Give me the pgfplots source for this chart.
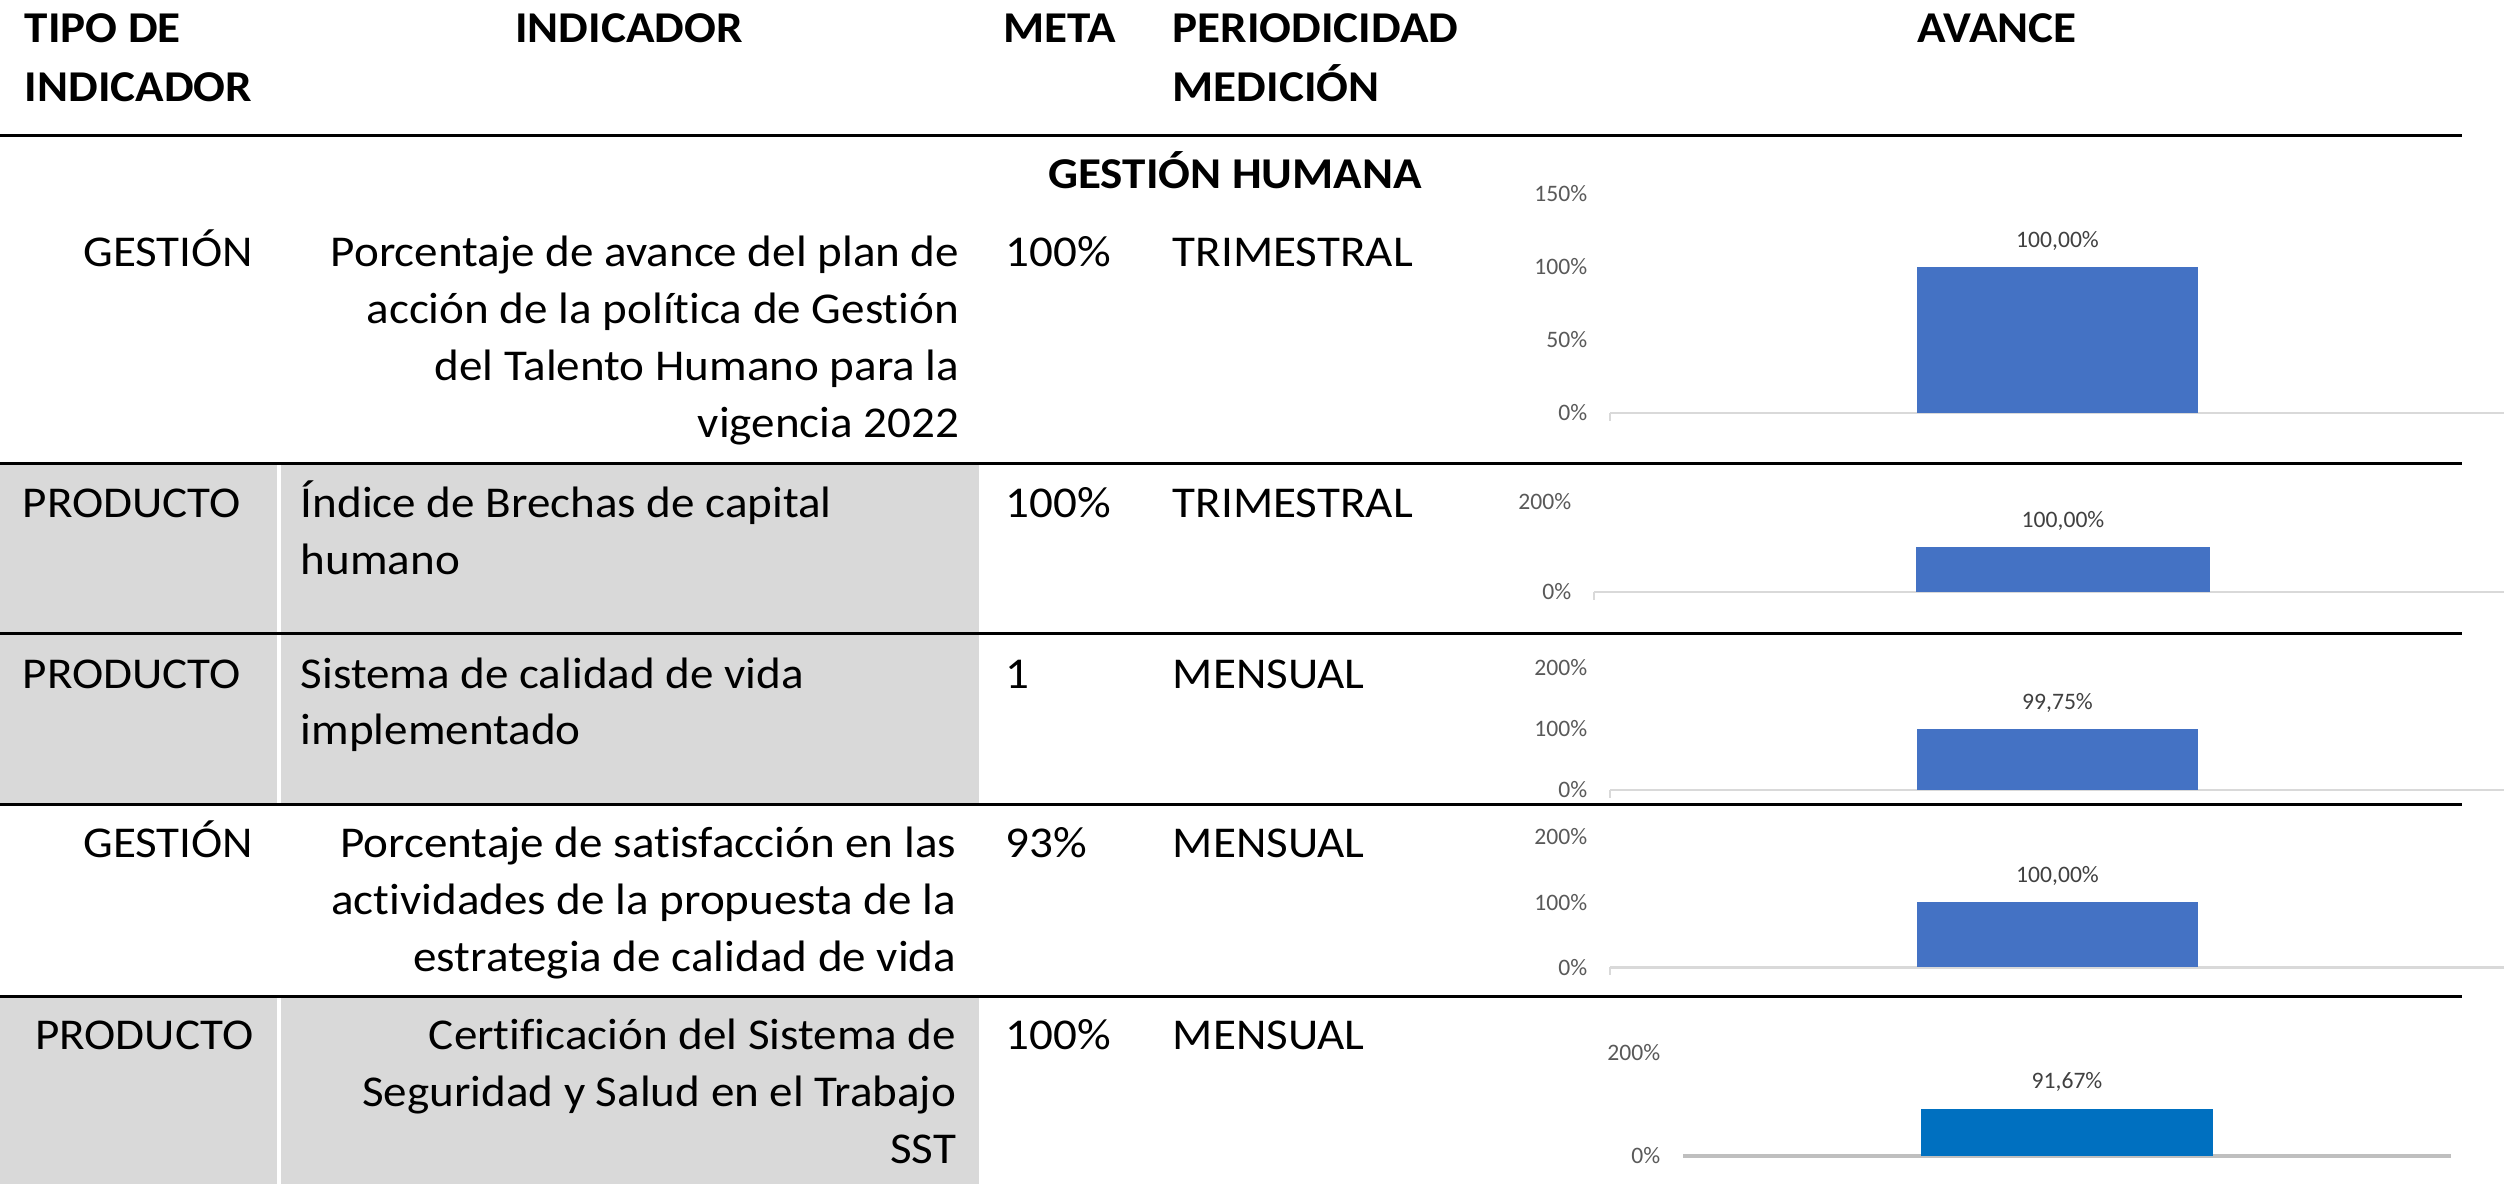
\documentclass[border=0pt]{standalone}
\usepackage{fontspec}
\setmainfont{Carlito}[FakeStretch=1.07, Ligatures=CommonOff]
\newfontfamily\chartfont{Carlito}
\usepackage{pgfplots}
\pgfplotsset{compat=1.18}
\definecolor{barblue}{HTML}{4472C4}
\definecolor{barblueB}{HTML}{0070C0}
\definecolor{tickgray}{HTML}{595959}
\definecolor{labgray}{HTML}{404040}
\definecolor{basegray}{HTML}{D9D9D9}
\definecolor{basegrayB}{HTML}{BFBFBF}
\definecolor{cellgray}{HTML}{D9D9D9}
\newcommand\tf{\fontsize{11pt}{14pt}\selectfont}
\newcommand\cf{\chartfont\fontsize{5.9pt}{7pt}\selectfont}
\pgfplotsset{minibar/.style={
  scale only axis, anchor=south west,
  axis line style={draw=none}, xtick=\empty, ymin=0,
  enlargelimits=false, clip=false,
  ytick style={draw=none}, major tick length=0pt,
  yticklabel style={font=\cf, text=tickgray, inner sep=0pt, anchor=east, xshift=-5.5pt},
  ybar,
  nodes near coords, point meta=explicit symbolic,
  every node near coord/.append style={font=\cf, text=labgray, anchor=south, inner sep=0pt, yshift=4pt},
}}
\begin{document}
\begin{tikzpicture}[x=0.25pt, y=0.25pt,
  t/.style={inner sep=0pt, font=\tf},
  h/.style={inner sep=0pt, font=\tf\bfseries}]
\path[use as bounding box] (0,0) rectangle (2504,1184);
% gray cells
\fill[cellgray] (0,551) rectangle (277,719);
\fill[cellgray] (281,551) rectangle (979,719);
\fill[cellgray] (0,380) rectangle (277,549);
\fill[cellgray] (281,380) rectangle (979,549);
\fill[cellgray] (0,0) rectangle (277,186);
\fill[cellgray] (281,0) rectangle (979,186);
% rules
\foreach \yy in {1048,720,550,379,187} {\draw[black, line width=0.75pt] (0,\yy) -- (2462,\yy);}
% header
\node[h, anchor=base west] at (24,1141) {TIPO DE};
\node[h, anchor=base west] at (24,1082) {INDICADOR};
\node[h, anchor=base] at (629,1141) {INDICADOR};
\node[h, anchor=base west] at (1003,1141) {META};
\node[h, anchor=base west] at (1172,1141) {PERIODICIDAD};
\node[h, anchor=base west] at (1172,1082) {MEDICIÓN};
\node[h, anchor=base] at (1997,1141) {AVANCE};
\node[h, anchor=base] at (1235,995) {GESTIÓN HUMANA};
% row 1
\node[t, anchor=base east] at (254,917) {GESTIÓN};
\node[t, anchor=base east] at (960,917) {Porcentaje de avance del plan de};
\node[t, anchor=base east] at (960,860) {acción de la política de Gestión};
\node[t, anchor=base east] at (960,803) {del Talento Humano para la};
\node[t, anchor=base east] at (960,746) {vigencia 2022};
\node[t, anchor=base west] at (1005,917) {100\%};
\node[t, anchor=base west] at (1172,917) {TRIMESTRAL};
% row 2
\node[t, anchor=base west] at (22,666) {PRODUCTO};
\node[t, anchor=base west] at (300,666) {Índice de Brechas de capital};
\node[t, anchor=base west] at (300,609) {humano};
\node[t, anchor=base west] at (1005,666) {100\%};
\node[t, anchor=base west] at (1172,666) {TRIMESTRAL};
% row 3
\node[t, anchor=base west] at (22,495) {PRODUCTO};
\node[t, anchor=base west] at (300,495) {Sistema de calidad de vida};
\node[t, anchor=base west] at (300,439) {implementado};
\node[t, anchor=base west] at (1005,495) {1};
\node[t, anchor=base west] at (1172,495) {MENSUAL};
% row 4
\node[t, anchor=base east] at (254,326) {GESTIÓN};
\node[t, anchor=base east] at (957,326) {Porcentaje de satisfacción en las};
\node[t, anchor=base east] at (957,269) {actividades de la propuesta de la};
\node[t, anchor=base east] at (957,212) {estrategia de calidad de vida};
\node[t, anchor=base west] at (1005,326) {93\%};
\node[t, anchor=base west] at (1172,326) {MENSUAL};
% row 5
\node[t, anchor=base east] at (254,134) {PRODUCTO};
\node[t, anchor=base east] at (957,134) {Certificación del Sistema de};
\node[t, anchor=base east] at (957,77) {Seguridad y Salud en el Trabajo};
\node[t, anchor=base east] at (957,20) {SST};
\node[t, anchor=base west] at (1005,134) {100\%};
\node[t, anchor=base west] at (1172,134) {MENSUAL};
% chart 1
\begin{axis}[minibar, at={(402.5pt,192.75pt)}, width=223.5pt, height=54.75pt,
  xmin=-447.5, xmax=446.5, ymax=150, ytick={0,50,100,150},
  yticklabels={0\%,50\%,100\%,150\%}, bar width=281]
\draw[basegray, line width=0.6pt] (rel axis cs:0,0) -- (rel axis cs:1,0);
\draw[basegray, line width=0.5pt] (rel axis cs:0,0) -- ++(0pt,-2pt);
\addplot[fill=barblue, draw=none] coordinates {(0,100) [100,00\%]};
\end{axis}
% chart 2
\begin{axis}[minibar, at={(398.5pt,148pt)}, width=227.5pt, height=22.5pt,
  xmin=-469, xmax=441, ymax=200, ytick={0,200},
  yticklabels={0\%,200\%}, bar width=294]
\draw[basegray, line width=0.6pt] (rel axis cs:0,0) -- (rel axis cs:1,0);
\draw[basegray, line width=0.5pt] (rel axis cs:0,0) -- ++(0pt,-2pt);
\addplot[fill=barblue, draw=none] coordinates {(0,100) [100,00\%]};
\end{axis}
% chart 3
\begin{axis}[minibar, at={(402.5pt,98.5pt)}, width=223.5pt, height=30.5pt,
  xmin=-447.5, xmax=446.5, ymax=200, ytick={0,100,200},
  yticklabels={0\%,100\%,200\%}, bar width=281]
\draw[basegray, line width=0.6pt] (rel axis cs:0,0) -- (rel axis cs:1,0);
\draw[basegray, line width=0.5pt] (rel axis cs:0,0) -- ++(0pt,-2pt);
\addplot[fill=barblue, draw=none] coordinates {(0,99.75) [99,75\%]};
\end{axis}
% chart 4
\begin{axis}[minibar, at={(402.5pt,54.125pt)}, width=223.5pt, height=32.625pt,
  xmin=-447.5, xmax=446.5, ymax=200, ytick={0,100,200},
  yticklabels={0\%,100\%,200\%}, bar width=281]
\draw[basegray, line width=0.6pt] (rel axis cs:0,0) -- (rel axis cs:1,0);
\draw[basegray, line width=0.5pt] (rel axis cs:0,0) -- ++(0pt,-2pt);
\addplot[fill=barblue, draw=none] coordinates {(0,100) [100,00\%]};
\end{axis}
% chart 5
\begin{axis}[minibar, at={(420.75pt,7pt)}, width=192pt, height=25.75pt,
  xmin=-384, xmax=384, ymax=200, ytick={0,200},
  yticklabels={0\%,200\%}, bar width=292]
\draw[basegrayB, line width=1pt] (rel axis cs:0,0) -- (rel axis cs:1,0);
\addplot[fill=barblueB, draw=none] coordinates {(0,91.67) [91,67\%]};
\end{axis}
\end{tikzpicture}
\end{document}
